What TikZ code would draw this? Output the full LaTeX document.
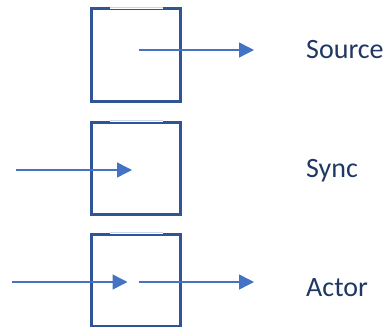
\documentclass[tikz,border=0pt]{standalone}
\usepackage{fontspec}
\setmainfont{Carlito}
\usetikzlibrary{arrows.meta,positioning}
\definecolor{boxblue}{HTML}{2F5597}
\definecolor{flowblue}{HTML}{4472C4}
\definecolor{gapblue}{HTML}{C9D6EE}
\definecolor{labelnavy}{HTML}{1F3864}
\tikzset{
  block/.style={draw=boxblue, line width=3pt, minimum width=89pt, minimum height=92pt, inner sep=0pt},
  gap/.style={draw=white, line width=3.4pt},
  gapline/.style={draw=gapblue, line width=1pt},
  flow/.style={draw=flowblue, line width=1.4pt, -{Triangle[length=15pt,width=15pt]}},
  tag/.style={text=labelnavy, font=\fontsize{28}{34}\selectfont, anchor=base west, inner sep=0pt}
}

\begin{document}
\begin{tikzpicture}[x=1pt,y=-1pt]
  \useasboundingbox (0,0) rectangle (390,326);
  % the three blocks
  \node[block] (source) at (135.5,55) {};
  \node[block] (sync) at (135.5,168) {};
  \node[block] (actor) at (135.5,280) {};
  % open top of each block
  \foreach \b in {source,sync,actor}{
    \draw[gap] ([xshift=20pt]\b.north west) -- ([xshift=-19pt]\b.north east);
    \draw[gapline] ([xshift=20pt]\b.north west) -- ([xshift=-19pt]\b.north east);
  }
  % labels
  \node[tag] (srclabel) at (306,59) {Source};
  \node[tag] (synclabel) at (306,177) {Sync};
  \node[tag] (actlabel) at (306,296) {Actor};
  % data flow
  \coordinate (srcout) at (254,50);
  \coordinate (syncin) at (16,170);
  \coordinate (actin) at (12,282);
  \coordinate (actout) at (254,282);
  \draw[flow] ([xshift=3.5pt]srcout -| source.center) -- (srcout);
  \draw[flow] (syncin) -- ([xshift=-3.5pt]syncin -| sync.center);
  \draw[flow] (actin) -- ([xshift=-8pt]actin -| actor.center);
  \draw[flow] ([xshift=3pt]actout -| actor.center) -- (actout);
\end{tikzpicture}
\end{document}
